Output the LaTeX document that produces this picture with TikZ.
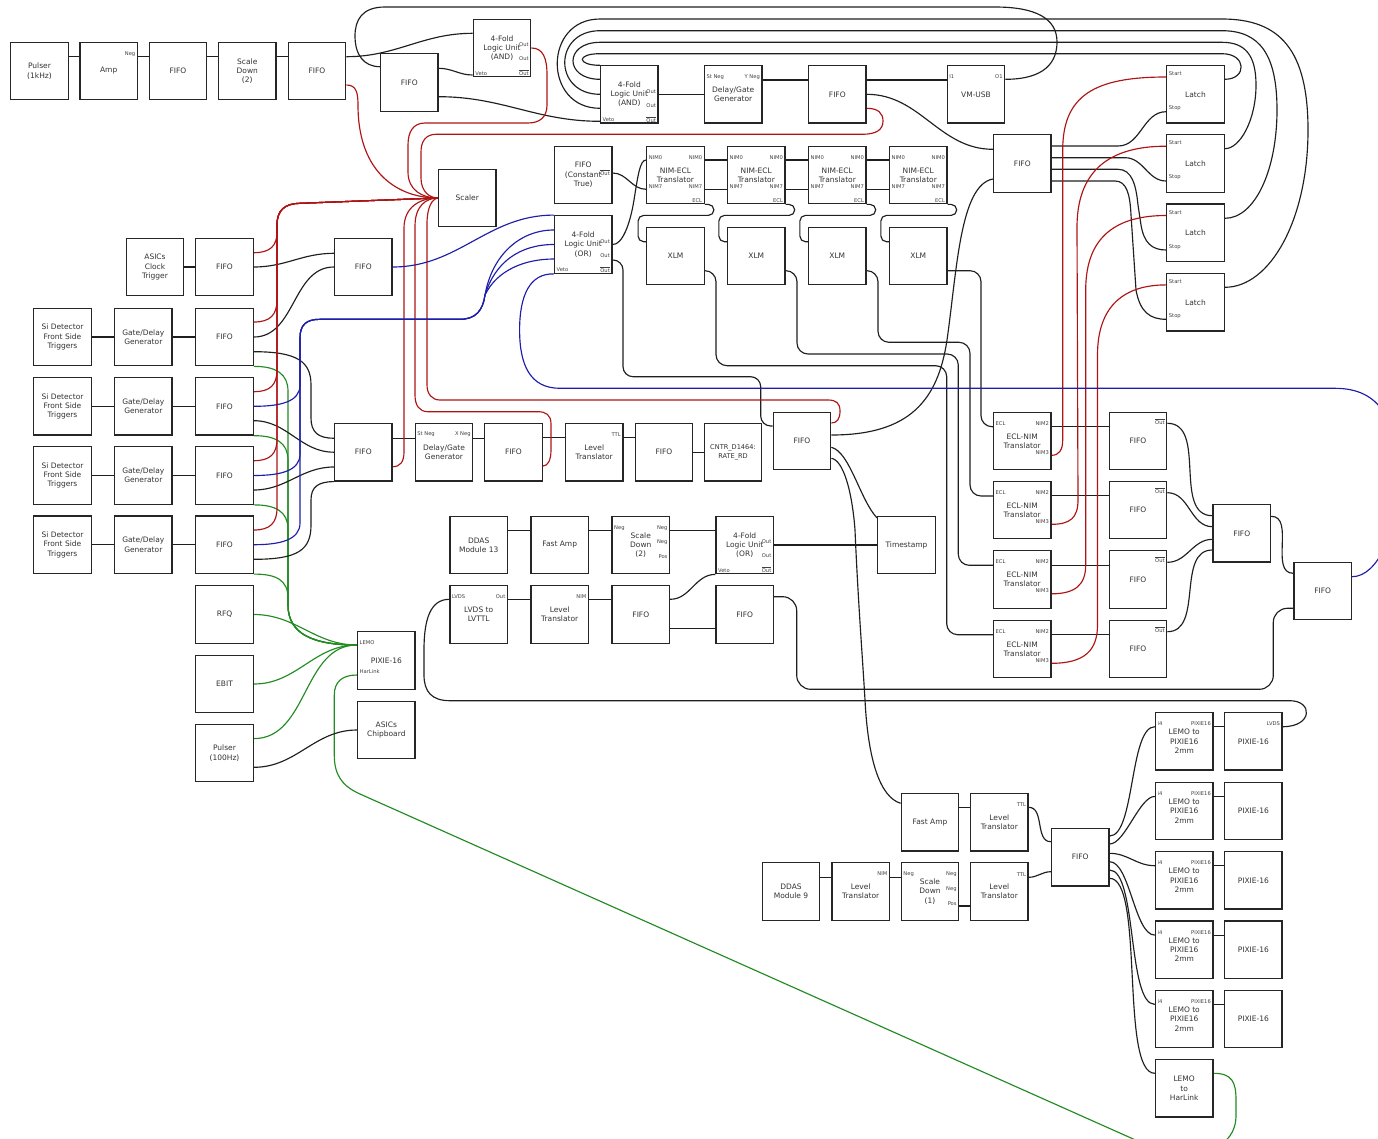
\documentclass[tikz,border=0pt]{standalone}
\usepackage{fontspec}
\setmainfont{DejaVu Sans}
\usetikzlibrary{calc}
\definecolor{wred}{RGB}{175,20,20}
\definecolor{wblue}{RGB}{30,30,170}
\definecolor{wgreen}{RGB}{34,139,34}
\newcommand{\outbar}{$\overline{\mbox{Out}}$}
\pgfdeclarelayer{back}
\pgfdeclarelayer{bg}
\pgfsetlayers{back,bg,main}
\begin{document}
\begin{tikzpicture}[x=1pt,y=-1pt,
 box/.style={draw=black!85,line width=1.3pt,minimum width=57.5pt,minimum height=57.5pt,inner sep=1pt,align=center,font=\fontsize{7.5}{9.3}\selectfont,text=black!80},
 pl/.style={font=\fontsize{5.2}{6}\selectfont,inner sep=0.4pt,text=black!75},
 wire/.style={line width=1.15pt,draw=black!88},
 rw/.style={line width=1.15pt,draw=wred},
 bw/.style={line width=1.15pt,draw=wblue},
 gw/.style={line width=1.15pt,draw=wgreen}]
\useasboundingbox (0,0) rectangle (1378,1138);
\begin{pgfonlayer}{back}
\fill[white] (0,0) rectangle (1378,1138);
\end{pgfonlayer}

% ---------------- boxes ----------------
\node[box] (pul1) at (39.5,71) {Pulser\\(1kHz)};
\node[box] (amp) at (108.7,71) {Amp};
\node[box] (fifoA) at (178,71) {FIFO};
\node[box] (sd2a) at (247.3,71) {Scale\\Down\\(2)};
\node[box] (fifoB) at (317,71) {FIFO};
\node[box] (fifoC) at (409.3,82.5) {FIFO};
\node[box] (and1) at (502,48) {4-Fold\\Logic Unit\\(AND)};
\node[box] (and2) at (629.3,94.3) {4-Fold\\Logic Unit\\(AND)};
\node[box] (dg1) at (733.2,94.3) {Delay/Gate\\Generator};
\node[box] (fifoD) at (837.3,94.3) {FIFO};
\node[box] (vmusb) at (976,94.3) {VM-USB};
\node[box] (latch1) at (1195.5,94.3) {Latch};
\node[box] (latch2) at (1195.5,163.5) {Latch};
\node[box] (latch3) at (1195.5,232.8) {Latch};
\node[box] (latch4) at (1195.5,302.2) {Latch};
\node[box] (fifoE) at (1022.3,163.5) {FIFO};
\node[box] (ctrue) at (583.2,175) {FIFO\\(Constant\\True)};
\node[box] (or1) at (583.2,244.5) {4-Fold\\Logic Unit\\(OR)};
\node[box] (ne1) at (675.5,175) {NIM-ECL\\Translator};
\node[box] (ne2) at (756.3,175) {NIM-ECL\\Translator};
\node[box] (ne3) at (837.3,175) {NIM-ECL\\Translator};
\node[box] (ne4) at (918.3,175) {NIM-ECL\\Translator};
\node[box] (xlm1) at (675.5,256) {XLM};
\node[box] (xlm2) at (756.3,256) {XLM};
\node[box] (xlm3) at (837.3,256) {XLM};
\node[box] (xlm4) at (918.3,256) {XLM};
\node[box] (scaler) at (467.3,198) {Scaler};
\node[box] (asct) at (155,267) {ASICs\\Clock\\Trigger};
\node[box] (fifoF) at (224.5,267) {FIFO};
\node[box] (fifoG) at (363.3,267) {FIFO};
\foreach \i/\y in {1/337,2/406.3,3/475.5,4/544.7}{
  \node[box] (si\i) at (62.5,\y) {Si Detector\\Front Side\\Triggers};
  \node[box] (gd\i) at (143.3,\y) {Gate/Delay\\Generator};
  \node[box] (fs\i) at (224.5,\y) {FIFO};
}
\node[box] (fifoH) at (363.3,452.2) {FIFO};
\node[box] (dg2) at (444,452.2) {Delay/Gate\\Generator};
\node[box] (fifoI) at (513.5,452.2) {FIFO};
\node[box] (lt1) at (594.2,452.2) {Level\\Translator};
\node[box] (fifoJ) at (664,452.2) {FIFO};
\node[box,font=\fontsize{6.6}{9}\selectfont] (cntr) at (733,452.2) {CNTR\_D1464:\\RATE\_RD};
\node[box] (fifoK) at (802,441) {FIFO};
\foreach \i/\y in {1/441,2/510,3/579.5,4/649}{
  \node[box] (en\i) at (1022.2,\y) {ECL-NIM\\Translator};
  \node[box] (fo\i) at (1138,\y) {FIFO};
}
\node[box] (fifoL) at (1241.8,533.3) {FIFO};
\node[box] (fifoM) at (1322.7,591) {FIFO};
\node[box] (ddas13) at (478.7,545) {DDAS\\Module 13};
\node[box] (famp1) at (559.7,545) {Fast Amp};
\node[box] (sd2b) at (640.8,545) {Scale\\Down\\(2)};
\node[box] (or2) at (744.7,545) {4-Fold\\Logic Unit\\(OR)};
\node[box] (tstamp) at (906.5,545) {Timestamp};
\node[box] (lvds) at (478.7,614.5) {LVDS to\\LVTTL};
\node[box] (lt2) at (559.7,614.5) {Level\\Translator};
\node[box] (fifoN) at (640.8,614.5) {FIFO};
\node[box] (fifoO) at (744.7,614.5) {FIFO};
\node[box] (rfq) at (224.5,614.5) {RFQ};
\node[box] (ebit) at (224.5,684) {EBIT};
\node[box] (pul2) at (224.5,753) {Pulser\\(100Hz)};
\node[box] (pixie) at (386.3,660.5) {PIXIE-16};
\node[box] (asicc) at (386.3,730) {ASICs\\Chipboard};
\node[box] (famp2) at (930,822.3) {Fast Amp};
\node[box] (lt3) at (999.3,822.3) {Level\\Translator};
\node[box] (ddas9) at (791,891.5) {DDAS\\Module 9};
\node[box] (lt4) at (860.7,891.5) {Level\\Translator};
\node[box] (sd1) at (930,891.5) {Scale\\Down\\(1)};
\node[box] (lt5) at (999.3,891.5) {Level\\Translator};
\node[box] (fifoP) at (1080.2,857.2) {FIFO};
\foreach \i/\y in {1/741.3,2/811,3/880.3,4/949.7,5/1019}{
  \node[box] (lp\i) at (1184.2,\y) {LEMO to\\PIXIE16\\2mm};
  \node[box] (px\i) at (1253.3,\y) {PIXIE-16};
}
\node[box] (lh) at (1184.2,1088.3) {LEMO\\to\\HarLink};

% ---------------- port labels ----------------
\node[pl,anchor=east] (l-amp) at ([xshift=-2.2pt,yshift=17.3pt]amp.east) {Neg};
\foreach \u in {and1,and2,or1,or2}{
  \node[pl,anchor=east] (\u-o1) at ([xshift=-2.2pt,yshift=3pt]\u.east) {Out};
  \node[pl,anchor=east] (\u-o2) at ([xshift=-2.2pt,yshift=-11pt]\u.east) {Out};
  \node[pl,anchor=east] (\u-o3) at ([xshift=-2.2pt,yshift=-25pt]\u.east) {\outbar};
  \node[pl,anchor=west] (\u-v) at ([xshift=2.2pt,yshift=-25.5pt]\u.west) {Veto};
}
\node[pl,anchor=west] (dg1-a) at ([xshift=2.2pt,yshift=17.6pt]dg1.west) {St Neg};
\node[pl,anchor=east] (dg1-b) at ([xshift=-2.2pt,yshift=17.6pt]dg1.east) {Y Neg};
\node[pl,anchor=west] (dg2-a) at ([xshift=2.2pt,yshift=17.6pt]dg2.west) {St Neg};
\node[pl,anchor=east] (dg2-b) at ([xshift=-2.2pt,yshift=17.6pt]dg2.east) {X Neg};
\node[pl,anchor=west] (vm-a) at ([xshift=2.2pt,yshift=17.6pt]vmusb.west) {I1};
\node[pl,anchor=east] (vm-b) at ([xshift=-2.2pt,yshift=17.6pt]vmusb.east) {O1};
\foreach \i in {1,...,4}{
  \node[pl,anchor=west] (latch\i-a) at ([xshift=2.2pt,yshift=20.6pt]latch\i.west) {Start};
  \node[pl,anchor=west] (latch\i-b) at ([xshift=2.2pt,yshift=-14pt]latch\i.west) {Stop};
  \node[pl,anchor=west] (ne\i-a) at ([xshift=2.2pt,yshift=17.7pt]ne\i.west) {NIM0};
  \node[pl,anchor=east] (ne\i-b) at ([xshift=-2.2pt,yshift=17.7pt]ne\i.east) {NIM0};
  \node[pl,anchor=west] (ne\i-c) at ([xshift=2.2pt,yshift=-11.3pt]ne\i.west) {NIM7};
  \node[pl,anchor=east] (ne\i-d) at ([xshift=-2.2pt,yshift=-11.3pt]ne\i.east) {NIM7};
  \node[pl,anchor=east] (ne\i-e) at ([xshift=-2.2pt,yshift=-25.7pt]ne\i.east) {ECL};
  \node[pl,anchor=west] (en\i-a) at ([xshift=2.2pt,yshift=17.7pt]en\i.west) {ECL};
  \node[pl,anchor=east] (en\i-b) at ([xshift=-2.2pt,yshift=17.7pt]en\i.east) {NIM2};
  \node[pl,anchor=east] (en\i-c) at ([xshift=-2.2pt,yshift=-11.3pt]en\i.east) {NIM3};
  \node[pl,anchor=east] (fo\i-a) at ([xshift=-2.2pt,yshift=19.5pt]fo\i.east) {\outbar};
}
\node[pl,anchor=east] (ct-a) at ([xshift=-2.2pt,yshift=2.5pt]ctrue.east) {\outbar};
\node[pl,anchor=east] (lt1-a) at ([xshift=-2.2pt,yshift=17.3pt]lt1.east) {TTL};
\node[pl,anchor=east] (lt3-a) at ([xshift=-2.2pt,yshift=17.3pt]lt3.east) {TTL};
\node[pl,anchor=east] (lt5-a) at ([xshift=-2.2pt,yshift=17.3pt]lt5.east) {TTL};
\node[pl,anchor=east] (lt2-a) at ([xshift=-2.2pt,yshift=17.5pt]lt2.east) {NIM};
\node[pl,anchor=east] (lt4-a) at ([xshift=-2.2pt,yshift=17.5pt]lt4.east) {NIM};
\node[pl,anchor=west] (lvds-a) at ([xshift=2.2pt,yshift=17.5pt]lvds.west) {LVDS};
\node[pl,anchor=east] (lvds-b) at ([xshift=-2.2pt,yshift=17.5pt]lvds.east) {Out};
\foreach \u in {sd2b,sd1}{
  \node[pl,anchor=west] (\u-a) at ([xshift=2.2pt,yshift=17.3pt]\u.west) {Neg};
  \node[pl,anchor=east] (\u-b) at ([xshift=-2.2pt,yshift=17.3pt]\u.east) {Neg};
  \node[pl,anchor=east] (\u-c) at ([xshift=-2.2pt,yshift=2.7pt]\u.east) {Neg};
  \node[pl,anchor=east] (\u-d) at ([xshift=-2.2pt,yshift=-11.7pt]\u.east) {Pos};
}
\node[pl,anchor=west] (px-a) at ([xshift=2.2pt,yshift=17.5pt]pixie.west) {LEMO};
\node[pl,anchor=west] (px-b) at ([xshift=2.2pt,yshift=-11.5pt]pixie.west) {HarLink};
\foreach \i in {1,...,5}{
  \node[pl,anchor=west] (lp\i-a) at ([xshift=2.2pt,yshift=17.3pt]lp\i.west) {i4};
  \node[pl,anchor=east] (lp\i-b) at ([xshift=-2.2pt,yshift=17.3pt]lp\i.east) {PIXIE16};
}
\node[pl,anchor=east] (px1-l) at ([xshift=-2.2pt,yshift=17.3pt]px1.east) {LVDS};

% ---------------- connectors ----------------
\begin{pgfonlayer}{bg}
% top row
\draw[wire] ([yshift=14.3pt]pul1.east) -- ([yshift=14.3pt]amp.west);
\draw[wire] ([yshift=14.3pt]amp.east) -- ([yshift=14.3pt]fifoA.west);
\draw[wire] ([yshift=14.3pt]fifoA.east) -- ([yshift=14.3pt]sd2a.west);
\draw[wire] ([yshift=14.3pt]sd2a.east) -- ([yshift=14.3pt]fifoB.west);
\draw[wire] ([yshift=14.3pt]fifoB.east) to[out=0,in=180] ([yshift=14.7pt]and1.west);
\draw[rw] ([yshift=-14pt]fifoB.east) .. controls (356,85) and (358,92) .. (358,105) .. controls (358,175) and (400,198) .. (scaler.west);
% VM-USB big loop
\draw[wire] ([yshift=15pt]vmusb.east) .. controls (1045,79.3) and (1057,62) .. (1057,42) .. controls (1057,18) and (1035,7) .. (995,7) -- (385,7) .. controls (362,7) and (355,20) .. (355,36) .. controls (355,55) and (364,66.7) .. ([yshift=15.8pt]fifoC.west);
\draw[wire] ([yshift=14.2pt]fifoC.east) to[out=0,in=180] ([yshift=-27pt]and1.west);
\draw[wire] ([yshift=-14.2pt]fifoC.east) to[out=0,in=180] ([yshift=-27pt]and2.west);
% red loops to scaler
\draw[rw] (and1.east) .. controls (543,48) and (547,58) .. (547,75) -- (547,105) .. controls (547,117) and (540,123) .. (528,123) -- (425,123) .. controls (413,123) and (408,132) .. (408,145) -- (408,172) .. controls (408,190) and (422,198) .. (scaler.west);
\draw[rw] ([yshift=-14pt]fifoD.east) .. controls (878,108.3) and (883,113) .. (883,121) .. controls (883,130) and (876,134.3) .. (862,134.3) -- (436,134.3) .. controls (426,134.3) and (421,141) .. (421,152) -- (421,178) .. controls (421,192) and (430,198) .. (scaler.west);
% latch loops
\draw[wire] ([yshift=15pt]latch1.east) .. controls (1247,79.3) and (1247,53.7) .. (1222,53.7) -- (600,53.7) .. controls (576,53.7) and (577,65.3) .. ([yshift=29pt]and2.west);
\draw[wire] ([yshift=14.8pt]latch2.east) .. controls (1240,148.7) and (1256,120) .. (1256,85) .. controls (1256,55) and (1245,42.3) .. (1222,42.3) -- (600,42.3) .. controls (564,42.3) and (564,79.3) .. ([yshift=15pt]and2.west);
\draw[wire] ([yshift=14.5pt]latch3.east) .. controls (1255,218.3) and (1277,170) .. (1277,110) .. controls (1277,55) and (1260,30.7) .. (1222,30.7) -- (600,30.7) .. controls (553,30.7) and (553,94.3) .. (and2.west);
\draw[wire] ([yshift=14.9pt]latch4.east) .. controls (1270,287.3) and (1308,220) .. (1308,130) .. controls (1308,50) and (1280,19) .. (1222,19) -- (600,19) .. controls (543,19) and (543,108.3) .. ([yshift=-14pt]and2.west);
% and2 chain
\draw[wire] (and2.east) -- (dg1.west);
\draw[wire] ([yshift=14.3pt]dg1.east) -- ([yshift=14.3pt]fifoD.west);
\draw[wire] ([yshift=14.3pt]fifoD.east) -- ([yshift=14.3pt]vmusb.west);
\draw[wire] (fifoD.east) to[out=0,in=180] ([yshift=14.2pt]fifoE.west);
\draw[wire] ([yshift=6pt]fifoK.east) .. controls (910,435) and (938,400) .. (947,340) .. controls (957,270) and (960,185) .. ([yshift=-15.5pt]fifoE.west);
% latch stops
\draw[wire] ([yshift=17.5pt]fifoE.east) -- (1118,146) to[out=0,in=180] ([yshift=-17.4pt]latch1.west);
\draw[wire] ([yshift=5.8pt]fifoE.east) -- (1125,157.7) to[out=0,in=180] ([yshift=-17.5pt]latch2.west);
\draw[wire] ([yshift=-5.8pt]fifoE.east) -- (1118,169.3) .. controls (1132,169.3) and (1136,185) .. (1138,205) -- (1141,225) .. controls (1144,243) and (1152,250) .. ([yshift=-17.2pt]latch3.west);
\draw[wire] ([yshift=-17.5pt]fifoE.east) -- (1115,181) .. controls (1127,181) and (1130,195) .. (1131,215) -- (1136,290) .. controls (1140,312) and (1150,319.3) .. ([yshift=-17.1pt]latch4.west);
% NIM-ECL
\draw[wire] ([yshift=2pt]ctrue.east) to[out=0,in=180] ([yshift=-14.3pt]ne1.west);
\draw[wire] (or1.east) .. controls (622,245) and (630,225) .. (634,200) .. controls (638,175) and (640,160) .. ([yshift=15pt]ne1.west);
\foreach \a/\b in {ne1/ne2,ne2/ne3,ne3/ne4}{
  \draw[wire] ([yshift=15pt]\a.east) -- ([yshift=15pt]\b.west);
  \draw[wire] ([yshift=-14.3pt]\a.east) -- ([yshift=-14.3pt]\b.west);
}
\foreach \i in {1,...,4}
  \draw[wire,rounded corners=5.5pt] (ne\i.south east) -- ++(9,0) -- ++(0,11) -| ([xshift=-8pt,yshift=14.3pt]xlm\i.west) -- ([yshift=14.3pt]xlm\i.west);
% XLM -> ECL-NIM
\draw[wire,rounded corners=11pt] ([yshift=-14.7pt]xlm4.east) -- (981,270.7) -- (981,426.7) -- ([yshift=14.3pt]en1.west);
\draw[wire,rounded corners=11pt] ([yshift=-14.7pt]xlm3.east) -- (878,270.7) -- (878,342.3) -- (970,342.3) -- (970,496) -- ([yshift=14pt]en2.west);
\draw[wire,rounded corners=11pt] ([yshift=-14.7pt]xlm2.east) -- (797,270.7) -- (797,354) -- (958.3,354) -- (958.3,565.3) -- ([yshift=14.2pt]en3.west);
\draw[wire,rounded corners=11pt] ([yshift=-14.7pt]xlm1.east) -- (716,270.7) -- (716,365.7) -- (946.7,365.7) -- (946.7,634.7) -- ([yshift=14.3pt]en4.west);
\draw[wire,rounded corners=10pt] ([yshift=-15.5pt]or1.east) -- (623,260) -- (623,376.7) -- (760.7,376.7) -- (760.7,426) -- ([yshift=15pt]fifoK.west);
% ECL-NIM -> FIFO, red to latches
\foreach \i in {1,...,4}
  \draw[wire] ([yshift=14.3pt]en\i.east) -- ([yshift=14.3pt]fo\i.west);
\draw[rw] ([yshift=-14.3pt]en1.east) .. controls (1059,455.3) and (1062.7,450) .. (1062.7,440) -- (1062.7,150) .. controls (1062.7,95) and (1095,77) .. ([yshift=17.3pt]latch1.west);
\draw[rw] ([yshift=-14.3pt]en2.east) .. controls (1070,524.3) and (1078,518) .. (1078,500) -- (1077,230) .. controls (1076,170) and (1110,146.2) .. ([yshift=17.3pt]latch2.west);
\draw[rw] ([yshift=-14.3pt]en3.east) .. controls (1075,593.8) and (1085.7,585) .. (1085.7,565) -- (1085.7,290) .. controls (1085.7,235) and (1118,215.5) .. ([yshift=17.3pt]latch3.west);
\draw[rw] ([yshift=-14.3pt]en4.east) .. controls (1085,663.3) and (1097.5,650) .. (1097.5,625) -- (1097.5,355) .. controls (1097.5,305) and (1125,284.9) .. ([yshift=17.3pt]latch4.west);
\draw[wire] ([yshift=17.7pt]fo1.east) to[out=0,in=180] ([yshift=17.6pt]fifoL.west);
\draw[wire] ([yshift=17.3pt]fo2.east) to[out=0,in=180] ([yshift=6.6pt]fifoL.west);
\draw[wire] ([yshift=17.2pt]fo3.east) to[out=0,in=180] ([yshift=-6pt]fifoL.west);
\draw[wire] ([yshift=17.3pt]fo4.east) to[out=0,in=180] ([yshift=-16.7pt]fifoL.west);
\draw[wire] ([yshift=17pt]fifoL.east) to[out=0,in=180] ([yshift=17.7pt]fifoM.west);
\draw[wire,rounded corners=14pt] ([yshift=-17.3pt]fifoM.west) -- (1273.3,608.3) -- (1273.3,689.3) -- (796.7,689.3) -- (796.7,596.7) -- ([yshift=17.8pt]fifoO.east);
\draw[bw] ([yshift=14.3pt]fifoM.east) .. controls (1378,576.7) and (1398,530) .. (1398,480) .. controls (1398,420) and (1380,388.3) .. (1335,388.3) -- (560,388.3) .. controls (530,388.3) and (519.6,365) .. (519.6,330) .. controls (519.6,295) and (530,273.3) .. (or1.south west);
% LVDS loop and middle rows
\draw[wire] ([yshift=15.2pt]lvds.west) .. controls (430,599.3) and (424,620) .. (424,650) -- (424,675) .. controls (424,692) and (432,700.7) .. (450,700.7) -- (1290,700.7) .. controls (1313,700.7) and (1313,726.7) .. ([yshift=14.6pt]px1.east);
\draw[wire] ([yshift=15.2pt]lvds.east) -- ([yshift=15.2pt]lt2.west);
\draw[wire] ([yshift=15.2pt]lt2.east) -- ([yshift=15.2pt]fifoN.west);
\draw[wire] ([yshift=15.2pt]fifoN.east) to[out=0,in=180] (or2.south west);
\draw[wire] ([yshift=-13.8pt]fifoN.east) -- ([yshift=-13.8pt]fifoO.west);
\draw[wire] ([yshift=14.3pt]ddas13.east) -- ([yshift=14.3pt]famp1.west);
\draw[wire] ([yshift=14.3pt]famp1.east) -- ([yshift=14.3pt]sd2b.west);
\draw[wire] ([yshift=14.3pt]sd2b.east) -- ([yshift=14.3pt]or2.west);
\draw[wire] (or2.east) -- (tstamp.west);
\draw[wire] ([yshift=-6.3pt]fifoK.east) .. controls (850,452) and (860,500) .. ([yshift=27pt]tstamp.west);
\draw[wire] ([yshift=-17.3pt]fifoK.east) .. controls (843,460) and (852,490) .. (855,530) .. controls (858,600) and (862,650) .. (865,700) .. controls (868,760) and (880,797) .. ([yshift=19pt]famp2.west);
% bottom right
\draw[wire] ([yshift=14.6pt]famp2.east) -- ([yshift=14.6pt]lt3.west);
\draw[wire] ([yshift=15pt]lt3.east) to[out=0,in=180] ([yshift=15.5pt]fifoP.west);
\draw[wire] ([yshift=14.2pt]ddas9.east) -- ([yshift=14.2pt]lt4.west);
\draw[wire] ([yshift=14.2pt]lt4.east) -- ([yshift=14.2pt]sd1.west);
\draw[wire] ([yshift=-14.5pt]sd1.east) -- ([yshift=-14.5pt]lt5.west);
\draw[wire] ([yshift=14.2pt]lt5.east) to[out=0,in=180] ([yshift=-14.5pt]fifoP.west);
\draw[wire] ([yshift=21.2pt]fifoP.east) to[out=0,in=180,looseness=0.55] ([yshift=14.6pt]lp1.west);
\draw[wire] ([yshift=13.2pt]fifoP.east) to[out=0,in=180,looseness=0.6] ([yshift=14.6pt]lp2.west);
\draw[wire] ([yshift=3.9pt]fifoP.east) to[out=0,in=180] ([yshift=14.6pt]lp3.west);
\draw[wire] ([yshift=-4.5pt]fifoP.east) to[out=0,in=180,looseness=0.6] ([yshift=14.6pt]lp4.west);
\draw[wire] ([yshift=-12.8pt]fifoP.east) to[out=0,in=180,looseness=0.5] ([yshift=14.6pt]lp5.west);
\draw[wire] ([yshift=-21.1pt]fifoP.east) to[out=0,in=180,looseness=0.45] ([yshift=15pt]lh.west);
\foreach \i in {1,...,5}
  \draw[wire] ([yshift=14.6pt]lp\i.east) -- ([yshift=14.6pt]px\i.west);
% green
\draw[gw] ([yshift=15pt]lh.east) .. controls (1232,1073.3) and (1236,1082) .. (1236,1100) -- (1236,1115) .. controls (1236,1150) and (1200,1160) .. (1140,1142) -- (360,794) .. controls (342,786) and (334.3,775) .. (334.3,755) -- (334.3,695) .. controls (334.3,682) and (342,675) .. ([yshift=-14.5pt]pixie.west);
\draw[gw] (rfq.east) to[out=0,in=180] ([yshift=15.5pt]pixie.west);
\draw[gw] (ebit.east) to[out=0,in=180] ([yshift=15.5pt]pixie.west);
\draw[gw] ([yshift=14.4pt]pul2.east) to[out=0,in=180] ([yshift=15.5pt]pixie.west);
\draw[gw] (fs1.south east) .. controls (276,366.2) and (288,374) .. (288,391) -- (288,605) .. controls (288,635) and (315,645) .. ([yshift=15.5pt]pixie.west);
\draw[gw] (fs2.south east) .. controls (276,435.5) and (288,443) .. (288,460) -- (288,605) .. controls (288,635) and (315,645) .. ([yshift=15.5pt]pixie.west);
\draw[gw] (fs3.south east) .. controls (276,504.7) and (288,512) .. (288,529) -- (288,605) .. controls (288,635) and (315,645) .. ([yshift=15.5pt]pixie.west);
\draw[gw] (fs4.south east) .. controls (276,574) and (288,580) .. (288,598) -- (288,605) .. controls (288,635) and (315,645) .. ([yshift=15.5pt]pixie.west);
\draw[wire] ([yshift=-14.3pt]pul2.east) to[out=0,in=180] (asicc.west);
% left black
\draw[wire] (asct.east) -- (fifoF.west);
\foreach \i in {1,...,4}{
  \draw[wire] (si\i.east) -- (gd\i.west);
  \draw[wire] (gd\i.east) -- (fs\i.west);
}
\draw[wire] (fifoF.east) to[out=0,in=180] ([yshift=13.7pt]fifoG.west);
\draw[wire] (fs1.east) to[out=0,in=180] (fifoG.west);
\draw[wire] ([yshift=-14.7pt]fs1.east) .. controls (298,351.7) and (311,362) .. (311,385) -- (311,418) .. controls (311,432) and (318,438.3) .. ([yshift=14pt]fifoH.west);
\draw[wire] ([yshift=-14.4pt]fs2.east) to[out=0,in=180] (fifoH.west);
\draw[wire] ([yshift=-14.5pt]fs3.east) to[out=0,in=180] ([yshift=-14.8pt]fifoH.west);
\draw[wire] ([yshift=-14.6pt]fs4.east) .. controls (298,559.3) and (311,550) .. (311,525) -- (311,500) .. controls (311,487) and (318,481.7) .. (fifoH.south west);
\draw[wire] ([yshift=14pt]fifoH.east) -- ([yshift=14pt]dg2.west);
\draw[wire] ([yshift=14pt]dg2.east) -- ([yshift=14pt]fifoI.west);
\draw[wire] ([yshift=14.5pt]fifoI.east) -- ([yshift=14.5pt]lt1.west);
\draw[wire] ([yshift=14.5pt]lt1.east) -- ([yshift=14.5pt]fifoJ.west);
\draw[wire] (fifoJ.east) -- (cntr.west);
% red from left FIFOs
\draw[rw] ([yshift=14.3pt]fifoF.east) .. controls (270,252.7) and (277,246) .. (277,232) -- (277,225) .. controls (277,210) and (285,203.5) .. (300,203.3) -- (scaler.west);
\draw[rw] ([yshift=15pt]fs1.east) .. controls (270,322) and (277,315) .. (277,300) -- (277,225) .. controls (277,210) and (285,203.5) .. (300,203.3) -- (scaler.west);
\draw[rw] ([yshift=14.6pt]fs2.east) .. controls (270,391.7) and (277,385) .. (277,370) -- (277,225) .. controls (277,210) and (285,203.5) .. (300,203.3) -- (scaler.west);
\draw[rw] ([yshift=14.8pt]fs3.east) .. controls (270,460.7) and (277,454) .. (277,439) -- (277,225) .. controls (277,210) and (285,203.5) .. (300,203.3) -- (scaler.west);
\draw[rw] ([yshift=14.7pt]fs4.east) .. controls (270,530) and (277,523) .. (277,508) -- (277,225) .. controls (277,210) and (285,203.5) .. (300,203.3) -- (scaler.west);
% red from below
\draw[rw] ([yshift=-14.5pt]fifoH.east) .. controls (400,466.7) and (404,462) .. (404,452) -- (404,228) .. controls (404,207) and (420,198) .. (scaler.west);
\draw[rw] ([yshift=-13.8pt]fifoI.east) .. controls (548,466) and (551,460) .. (551,450) -- (551,424) .. controls (551,415) and (546,411.7) .. (538,411.7) -- (428,411.7) .. controls (419,411.7) and (415,405) .. (415,395) -- (415,226) .. controls (415,206) and (426,198) .. (scaler.west);
\draw[rw] ([yshift=18pt]fifoK.east) .. controls (837,423) and (840,419) .. (840,411) .. controls (840,403) and (836,400) .. (828,400) -- (440,400) .. controls (432,400) and (427,394) .. (427,385) -- (427,224) .. controls (427,207) and (432,199) .. (scaler.west);
% blue
\draw[bw] (fifoG.east) to[out=0,in=180] (or1.north west);
\draw[bw] (fs2.east) .. controls (280,406.3) and (300,402) .. (300,385) -- (300,338) .. controls (300,325) and (306,319.3) .. (320,319.3) -- (460,319.3) .. controls (476,319.3) and (483,310) .. (485,295) .. controls (492,255) and (520,230) .. ([yshift=14.5pt]or1.west);
\draw[bw] (fs3.east) .. controls (280,475.5) and (300,471) .. (300,454) -- (300,338) .. controls (300,325) and (306,319.3) .. (320,319.3) -- (460,319.3) .. controls (476,319.3) and (483,310) .. (485,295) .. controls (495,262) and (520,244.5) .. (or1.west);
\draw[bw] (fs4.east) .. controls (280,544.7) and (300,540) .. (300,523) -- (300,338) .. controls (300,325) and (306,319.3) .. (320,319.3) -- (460,319.3) .. controls (476,319.3) and (483,310) .. (485,295) .. controls (497,270) and (525,259) .. ([yshift=-14.5pt]or1.west);
\end{pgfonlayer}
\end{tikzpicture}
\end{document}
